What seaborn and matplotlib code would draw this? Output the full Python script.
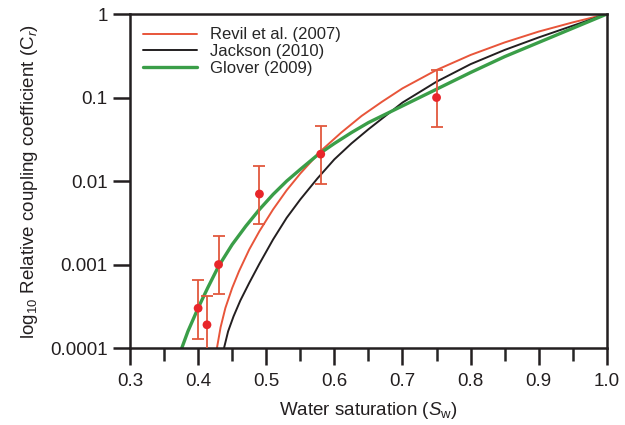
import seaborn as sns
import matplotlib.pyplot as plt
import pandas as pd
import numpy as np

# measured points (water saturation, relative coupling coefficient, error bounds)
sw_data = [0.40, 0.413, 0.43, 0.49, 0.58, 0.75]
cr_data = [0.0003, 0.00019, 0.001, 0.007, 0.021, 0.10]
cr_low = [0.00013, 0.000087, 0.00044, 0.0031, 0.0091, 0.044]
cr_high = [0.00065, 0.00042, 0.0022, 0.015, 0.045, 0.215]

# model curves (log10 of Cr)
revil_sw = [0.4276, 0.433, 0.44, 0.45, 0.46, 0.475, 0.49, 0.51, 0.53, 0.55,
            0.58, 0.61, 0.64, 0.67, 0.70, 0.75, 0.80, 0.85, 0.90, 0.95, 1.0]
revil_log = [-4.0, -3.75, -3.52, -3.28, -3.08, -2.82, -2.60, -2.34, -2.11, -1.91,
             -1.64, -1.42, -1.22, -1.05, -0.89, -0.67, -0.49, -0.34, -0.21, -0.10, 0.0]

jackson_sw = [0.438, 0.444, 0.452, 0.462, 0.475, 0.49, 0.51, 0.53, 0.55, 0.575,
              0.60, 0.625, 0.65, 0.70, 0.75, 0.80, 0.85, 0.90, 0.95, 1.0]
jackson_log = [-4.0, -3.80, -3.62, -3.43, -3.22, -2.99, -2.70, -2.44, -2.22, -1.97,
               -1.74, -1.55, -1.38, -1.06, -0.81, -0.60, -0.43, -0.28, -0.14, 0.0]

glover_sw = [0.376, 0.385, 0.40, 0.414, 0.43, 0.45, 0.47, 0.49, 0.51, 0.53, 0.55,
             0.575, 0.60, 0.625, 0.65, 0.70, 0.75, 0.80, 0.85, 0.90, 0.95, 1.0]
glover_log = [-4.0, -3.80, -3.52, -3.28, -3.02, -2.76, -2.54, -2.34, -2.16, -2.00, -1.86,
              -1.69, -1.55, -1.42, -1.30, -1.10, -0.90, -0.70, -0.51, -0.34, -0.17, 0.0]

sns.set_style("ticks")
plt.rcParams['font.family'] = ['Liberation Sans', 'DejaVu Sans']
plt.rcParams['mathtext.fontset'] = 'custom'
plt.rcParams['mathtext.rm'] = 'Liberation Sans'
plt.rcParams['mathtext.it'] = 'Liberation Sans:italic'

fig = plt.figure(figsize=(6.25, 4.25), dpi=100)
ax = fig.add_axes([0.208, 0.181, 0.763, 0.786])

red = '#e8553a'
green = '#3a9e48'
black = '#231f20'

sns.lineplot(x=revil_sw, y=10 ** np.array(revil_log), ax=ax, color=red,
             linewidth=1.4, label='Revil et al. (2007)', sort=False)
sns.lineplot(x=jackson_sw, y=10 ** np.array(jackson_log), ax=ax, color=black,
             linewidth=1.4, label='Jackson (2010)', sort=False)
sns.lineplot(x=glover_sw, y=10 ** np.array(glover_log), ax=ax, color=green,
             linewidth=2.4, label='Glover (2009)', sort=False)

yerr = [np.array(cr_data) - np.array(cr_low), np.array(cr_high) - np.array(cr_data)]
ax.errorbar(sw_data, cr_data, yerr=yerr, fmt='none', ecolor='#e2583e',
            elinewidth=1.3, capsize=4, capthick=1.3, zorder=4)
sns.scatterplot(x=sw_data, y=cr_data, ax=ax, color='#e8262a', s=40,
                edgecolor='none', zorder=5)

ax.set_yscale('log')
ax.set_xlim(0.3, 1.0)
ax.set_ylim(1e-4, 1)
ax.set_yticks([1e-4, 1e-3, 1e-2, 1e-1, 1])
ax.set_yticklabels(['0.0001', '0.001', '0.01', '0.1', '1'])
ax.yaxis.set_minor_locator(plt.NullLocator())
ax.set_xticks([0.3, 0.4, 0.5, 0.6, 0.7, 0.8, 0.9, 1.0])
ax.set_xticklabels(['0.3', '0.4', '0.5', '0.6', '0.7', '0.8', '0.9', '1.0'])
ax.set_xticks(np.arange(0.35, 1.0, 0.1), minor=True)

for s in ax.spines.values():
    s.set_linewidth(1.8)
    s.set_color('#231f20')
ax.tick_params(axis='both', which='major', direction='out', length=12,
               width=1.8, labelsize=13.5, colors='#231f20', pad=4)
ax.tick_params(axis='x', which='major', pad=6)
ax.tick_params(axis='x', which='minor', direction='out', length=9, width=1.8)

ax.set_xlabel(r'Water saturation ($S_\mathrm{w}$)', fontsize=13.5, color='#231f20',
              labelpad=7)
ax.set_ylabel(r'log$_{10}$ Relative coupling coefficient (C$_r$)', fontsize=13.5,
              color='#231f20', labelpad=7)

ax.legend(loc='upper left', frameon=False, fontsize=12, handlelength=3.2,
          borderaxespad=0.5, borderpad=0.3, labelspacing=0.1, handletextpad=0.8)

fig.savefig('out.png', dpi=100)
plt.close(fig)
